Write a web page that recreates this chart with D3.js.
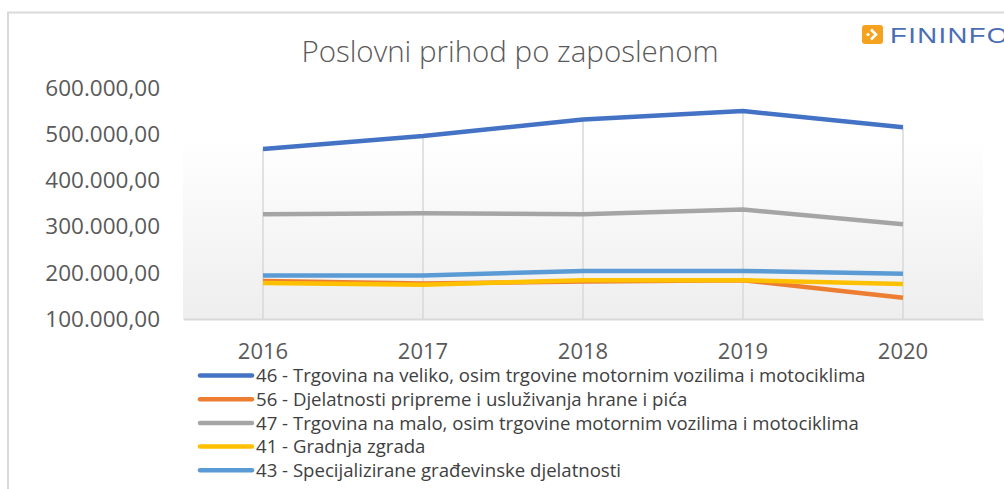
<!DOCTYPE html>
<html>
<head>
<meta charset="utf-8">
<script src="https://cdn.jsdelivr.net/npm/d3@7"></script>
<style>
  body { margin: 0; background: #fff; }
  svg { display: block; font-family: "Open Sans", sans-serif; }
</style>
</head>
<body>
<div id="chart"></div>
<script>
// podaci
const years = ["2016", "2017", "2018", "2019", "2020"]
const seriesNames = [
  "46 - Trgovina na veliko, osim trgovine motornim vozilima i motociklima",
  "56 - Djelatnosti pripreme i usluživanja hrane i pića",
  "47 - Trgovina na malo, osim trgovine motornim vozilima i motociklima",
  "41 - Gradnja zgrada",
  "43 - Specijalizirane građevinske djelatnosti"
]
const s46 = [468000, 496000, 532000, 550000, 515000]
const s56 = [182000, 177000, 181000, 184000, 146000]
const s47 = [327000, 329000, 327000, 337000, 305000]
const s41 = [178000, 174000, 184000, 184000, 176000]
const s43 = [194000, 194000, 204000, 204000, 198000]
const yTicks = [100000, 200000, 300000, 400000, 500000, 600000]
const colors = ["#4472C4", "#ED7D31", "#A5A5A5", "#FFC000", "#5B9BD5"]

const allSeries = [s46, s56, s47, s41, s43]

const totalWidth = 1004, totalHeight = 489
const plot = { left: 183, right: 983, top: 88, bottom: 319 }

const svg = d3.select("div#chart").append("svg").attr("width", totalWidth).attr("height", totalHeight)

// okvir grafikona
svg.append("path")
  .attr("d", `M8,${totalHeight + 5} L8,12.5 L${totalWidth + 5},12.5`)
  .attr("fill", "none").attr("stroke", "#d9d9d9").attr("stroke-width", 2)

const x = d3.scaleBand().domain(years).range([plot.left, plot.right])
const y = d3.scaleLinear().domain([100000, 600000]).range([plot.bottom, plot.top])
const cx = d => x(d) + x.bandwidth() / 2

// pozadina s gradijentom
const defs = svg.append("defs")
const grad = defs.append("linearGradient").attr("id", "bg").attr("x1", 0).attr("y1", 0).attr("x2", 0).attr("y2", 1)
grad.append("stop").attr("offset", "0%").attr("stop-color", "#ffffff")
grad.append("stop").attr("offset", "20%").attr("stop-color", "#ffffff")
grad.append("stop").attr("offset", "100%").attr("stop-color", "#eeeeee")

svg.append("rect")
  .attr("x", plot.left).attr("y", y(600000))
  .attr("width", plot.right - plot.left).attr("height", y(100000) - y(600000))
  .attr("fill", "url(#bg)")

// naslov
svg.append("text")
  .attr("x", 510).attr("y", 62)
  .attr("text-anchor", "middle")
  .attr("font-size", 29.5).attr("font-weight", 300)
  .attr("fill", "#595959")
  .text("Poslovni prihod po zaposlenom")

// os y
const loc = d3.formatLocale({ decimal: ",", thousands: ".", grouping: [3], currency: ["", ""] })
const fmt = loc.format(",.2f")
const yAxis = d3.axisLeft(y).tickValues(yTicks).tickFormat(fmt).tickSize(0).tickPadding(0)
const yAxisGroup = svg.append("g").attr("transform", "translate(160,0)").call(yAxis)
yAxisGroup.select(".domain").remove()
yAxisGroup.selectAll("text").attr("font-family", "Open Sans").attr("font-size", 22.5).attr("fill", "#595959")

// os x
const xAxis = d3.axisBottom(x).tickSize(0).tickPadding(0)
const xAxisGroup = svg.append("g").attr("transform", `translate(0,${plot.bottom})`).call(xAxis)
xAxisGroup.select(".domain").attr("stroke", "#d9d9d9").attr("stroke-width", 2)
xAxisGroup.selectAll("text").attr("font-family", "Open Sans").attr("font-size", 22).attr("fill", "#595959").attr("dy", 0).attr("y", 40)

// okomite linije od najvise tocke
years.forEach((yr, i) => {
  const top = d3.max(allSeries, s => s[i])
  svg.append("line")
    .attr("x1", cx(yr)).attr("x2", cx(yr))
    .attr("y1", y(top)).attr("y2", plot.bottom)
    .attr("stroke", "#d9d9d9").attr("stroke-width", 1.5)
})

// linije
const line = d3.line().x((d, i) => cx(years[i])).y(d => y(d))
allSeries.forEach((s, k) => {
  svg.append("path")
    .attr("d", line(s))
    .attr("fill", "none")
    .attr("stroke", colors[k])
    .attr("stroke-width", 4.5)
    .attr("stroke-linejoin", "round")
})

// legenda
const legend = svg.append("g").attr("class", "legend")
seriesNames.forEach((name, k) => {
  const ly = 375.5 + k * 23.7
  legend.append("line")
    .attr("x1", 200).attr("x2", 252).attr("y1", ly).attr("y2", ly)
    .attr("stroke", colors[k]).attr("stroke-width", 4.5).attr("stroke-linecap", "round")
  legend.append("text")
    .attr("x", 256).attr("y", ly).attr("dy", "0.36em")
    .attr("font-size", 18.6).attr("fill", "#404040")
    .text(name)
})

// logo
const logo = svg.append("g").attr("transform", "translate(862,25)")
logo.append("rect").attr("width", 21).attr("height", 19).attr("rx", 3).attr("fill", "#F5A21E")
logo.append("path").attr("d", "M9,4.5 L14,9.5 L9,14.5").attr("fill", "none").attr("stroke", "#fff").attr("stroke-width", 2.6)
logo.append("circle").attr("cx", 6).attr("cy", 9.5).attr("r", 1.6).attr("fill", "#fff")
logo.append("text")
  .attr("x", 0).attr("y", 18)
  .attr("transform", "translate(28,0) scale(1.25,1)")
  .attr("font-family", "Liberation Sans").attr("font-size", 22)
  .attr("letter-spacing", 1.1)
  .attr("fill", "#4A6DB5")
  .text("FININFO")
</script>
</body>
</html>
